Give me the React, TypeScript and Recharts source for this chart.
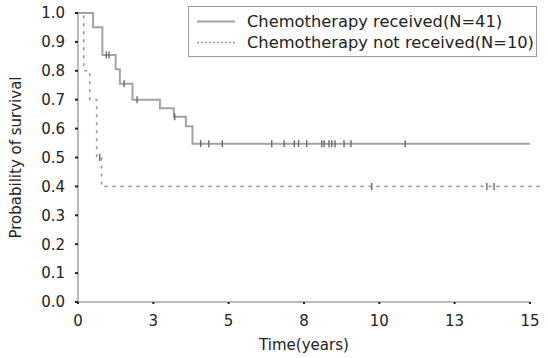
import React from 'react';
import { ComposedChart, Line, Scatter, XAxis, YAxis, ReferenceLine, Label } from 'recharts';

// Chemotherapy received (N=41): step times and survival probabilities
const receivedTimes = [0, 0.5, 0.81, 1.25, 1.39, 1.81, 2.72, 3.18, 3.58, 3.8, 15];
const receivedSurvival = [1.0, 0.951, 0.855, 0.805, 0.755, 0.7, 0.67, 0.641, 0.608, 0.548, 0.548];
const receivedCensorTimes = [0.94, 1.03, 1.53, 1.96, 3.21, 4.07, 4.34, 4.79, 6.43, 6.84, 7.18, 7.32, 7.59, 8.09, 8.17, 8.33, 8.42, 8.53, 8.83, 9.06, 10.86];

// Chemotherapy not received (N=10)
const notReceivedTimes = [0, 0.19, 0.39, 0.62, 0.78, 15.45];
const notReceivedSurvival = [1.0, 0.8, 0.7, 0.5, 0.4, 0.4];
const notReceivedCensorTimes = [0.72, 9.75, 13.57, 13.81];

const xTicks = [0, 2.5, 5, 7.5, 10, 12.5, 15];
const yTicks = [0, 0.1, 0.2, 0.3, 0.4, 0.5, 0.6, 0.7, 0.8, 0.9, 1.0];

const legendLabels = ['Chemotherapy received(N=41)', 'Chemotherapy not received(N=10)'];
const xTitle = 'Time(years)';
const yTitle = 'Probability of survival';

const toSeries = (times: number[], surv: number[]) => times.map((t, i) => ({ t, s: surv[i] }));
const survAt = (times: number[], surv: number[], t: number) => {
  let v = surv[0];
  for (let i = 0; i < times.length; i++) if (times[i] <= t) v = surv[i];
  return v;
};
const toCensors = (cens: number[], times: number[], surv: number[]) =>
  cens.map((t) => ({ t, s: survAt(times, surv, t) }));

const receivedData = toSeries(receivedTimes, receivedSurvival);
const notReceivedData = toSeries(notReceivedTimes, notReceivedSurvival);
const receivedCensors = toCensors(receivedCensorTimes, receivedTimes, receivedSurvival);
const notReceivedCensors = toCensors(notReceivedCensorTimes, notReceivedTimes, notReceivedSurvival);

const FONT = 'DejaVu Sans';
const LINE_GRAY = '#a3a3a3';

const CensorMark = (props: any) => {
  const { cx, cy } = props;
  if (cx == null || cy == null) return <g />;
  return <line x1={cx} y1={cy - 3.5} x2={cx} y2={cy + 3.5} stroke="#6a6a6a" strokeWidth={1.4} />;
};

export default function App() {
  return (
    <div style={{ position: 'absolute', left: 0, top: 0, width: 548, height: 358, background: '#fff' }}>
      <ComposedChart width={548} height={358} margin={{ top: 13, right: 3, bottom: 0, left: 0 }}>
        <XAxis
          dataKey="t"
          type="number"
          domain={[0, 15.5]}
          ticks={xTicks}
          tickFormatter={(v: number) => String(Math.round(v))}
          axisLine={false}
          tickLine={{ stroke: '#222', strokeWidth: 2 }}
          tickSize={2}
          tickMargin={11}
          height={56}
          tick={{ fontFamily: FONT, fontSize: 15, fill: '#222' }}
          interval={0}
        >
          <Label
            content={(p: any) => {
              const vb = p.viewBox || { x: 78, y: 302, width: 467 };
              return (
                <text
                  x={vb.x + (vb.width * 15) / 15.5 / 2}
                  y={vb.y + 48}
                  textAnchor="middle"
                  fontFamily={FONT}
                  fontSize={15}
                  fill="#222"
                >
                  {xTitle}
                </text>
              );
            }}
          />
        </XAxis>
        <YAxis
          type="number"
          domain={[0, 1]}
          ticks={yTicks}
          tickFormatter={(v: number) => v.toFixed(1)}
          width={78}
          axisLine={{ stroke: LINE_GRAY, strokeWidth: 1.5 }}
          tickLine={{ stroke: '#222', strokeWidth: 2 }}
          tickSize={3}
          tickMargin={10}
          tick={{ fontFamily: FONT, fontSize: 15, fill: '#222' }}
          interval={0}
        >
          <Label
            content={(p: any) => {
              const vb = p.viewBox || { x: 0, y: 13, height: 289 };
              const cx = 16;
              const cy = vb.y + vb.height / 2;
              return (
                <text
                  x={cx}
                  y={cy}
                  transform={`rotate(-90 ${cx} ${cy})`}
                  textAnchor="middle"
                  dominantBaseline="central"
                  fontFamily={FONT}
                  fontSize={15}
                  fill="#222"
                >
                  {yTitle}
                </text>
              );
            }}
          />
        </YAxis>
        <ReferenceLine
          segment={[{ x: 0, y: 0 }, { x: 15, y: 0 }]}
          stroke={LINE_GRAY}
          strokeWidth={1.5}
        />
        <Line
          data={notReceivedData}
          dataKey="s"
          type="stepAfter"
          stroke="#9a9a9a"
          strokeWidth={1.6}
          strokeDasharray="3 5"
          dot={false}
          activeDot={false}
          isAnimationActive={false}
        />
        <Line
          data={receivedData}
          dataKey="s"
          type="stepAfter"
          stroke={LINE_GRAY}
          strokeWidth={2}
          dot={false}
          activeDot={false}
          isAnimationActive={false}
        />
        <Scatter data={receivedCensors} dataKey="s" shape={CensorMark} isAnimationActive={false} />
        <Scatter data={notReceivedCensors} dataKey="s" shape={CensorMark} isAnimationActive={false} />
      </ComposedChart>
      <div
        style={{
          position: 'absolute',
          left: 188,
          top: 6,
          width: 349,
          height: 51,
          border: '1.5px solid #9a9a9a',
          boxSizing: 'border-box',
          fontFamily: FONT,
          fontSize: 16.3,
          color: '#222',
        }}
      >
        {legendLabels.map((label, i) => (
          <div
            key={label}
            style={{ position: 'absolute', left: 0, top: 4 + i * 21, height: 21, display: 'flex', alignItems: 'center', whiteSpace: 'nowrap' }}
          >
            <svg width={58} height={21} style={{ display: 'block' }}>
              <line
                x1={8}
                y1={10.5}
                x2={46}
                y2={10.5}
                stroke={i === 0 ? LINE_GRAY : '#9a9a9a'}
                strokeWidth={i === 0 ? 2 : 1.6}
                strokeDasharray={i === 0 ? undefined : '2 2'}
              />
            </svg>
            <span>{label}</span>
          </div>
        ))}
      </div>
    </div>
  );
}
